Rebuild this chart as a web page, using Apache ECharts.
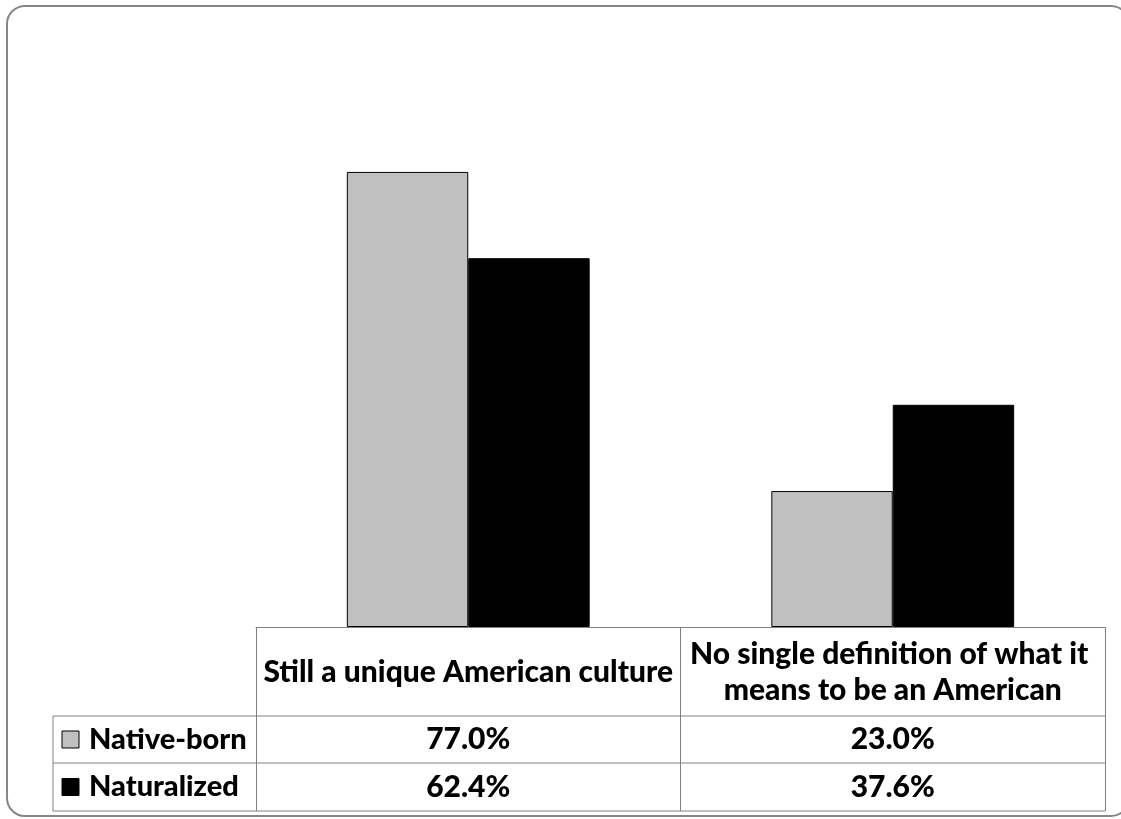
<!DOCTYPE html>
<html><head><meta charset="utf-8">
<script src="https://cdn.jsdelivr.net/npm/echarts@6/dist/echarts.min.js"></script>
<style>html,body{margin:0;padding:0;background:#fff}#c{width:1121px;height:819px}</style>
</head><body><div id="c"></div>
<script>
const categories = ['Still a unique American culture', 'No single definition of what it means to be an American'];
const seriesNames = ['Native-born', 'Naturalized'];
const nativeBorn = [77.0, 23.0];
const naturalized = [62.4, 37.6];
const seriesColors = ['#C0C0C0', '#000000'];

const FONT = 'Lato';
const FW = 900;
const FS = 30;
const FS_ROW = 29;
const W = 1121, H = 819;
const G = { left: 256, right: 16, top: 36, bottom: 192 };
const tableLeft = 53;
const rowLines = [716, 763, 811];
const lineColor = '#808080';

const chart = echarts.init(document.getElementById('c'), null, { renderer: 'canvas' });

chart.setOption({
  animation: false,
  backgroundColor: '#fff',
  grid: { left: G.left, right: G.right, top: G.top, bottom: G.bottom, containLabel: false },
  xAxis: {
    type: 'category',
    data: categories,
    boundaryGap: true,
    axisLine: { show: true, lineStyle: { color: lineColor, width: 1 } },
    axisTick: { show: true, interval: 0, length: rowLines[2] - (H - G.bottom), lineStyle: { color: lineColor, width: 1 } },
    axisLabel: {
      interval: 0, width: 412, overflow: 'break',
      fontFamily: FONT, fontSize: FS, fontWeight: FW, color: '#000',
      verticalAlign: 'middle', margin: 45, lineHeight: 36, align: 'center'
    },
    splitLine: { show: false }
  },
  yAxis: { type: 'value', min: 0, max: 100, show: false },
  series: [
    {
      name: seriesNames[0], type: 'bar', data: nativeBorn,
      barGap: '0%', barCategoryGap: '42.8%',
      itemStyle: { color: seriesColors[0], borderColor: '#000', borderWidth: 1 }
    },
    {
      name: seriesNames[1], type: 'bar', data: naturalized,
      itemStyle: { color: seriesColors[1], borderColor: '#000', borderWidth: 1 }
    }
  ]
});

const xs = categories.map((c, i) => chart.convertToPixel({ xAxisIndex: 0 }, i));
const plotRight = W - G.right;
const rowCenters = [(rowLines[0] + rowLines[1]) / 2, (rowLines[1] + rowLines[2]) / 2];
const seriesValues = [nativeBorn, naturalized];

const graphic = [];
graphic.push({
  type: 'rect', z: -10, silent: true,
  shape: { x: 7, y: 6, width: 1122, height: 810, r: 18 },
  style: { fill: 'none', stroke: '#868686', lineWidth: 2 }
});
rowLines.forEach(y => graphic.push({
  type: 'line', silent: true,
  shape: { x1: tableLeft, y1: y, x2: plotRight, y2: y },
  style: { stroke: lineColor, lineWidth: 1 }
}));
graphic.push({
  type: 'line', silent: true,
  shape: { x1: tableLeft, y1: rowLines[0], x2: tableLeft, y2: rowLines[2] },
  style: { stroke: lineColor, lineWidth: 1 }
});
seriesNames.forEach((name, r) => {
  graphic.push({
    type: 'rect', silent: true,
    shape: { x: 62, y: rowCenters[r] - 8.5, width: 17, height: 17 },
    style: { fill: seriesColors[r], stroke: '#000', lineWidth: 1 }
  });
  graphic.push({
    type: 'text', silent: true, x: 89, y: rowCenters[r],
    style: { text: name, fontFamily: FONT, fontSize: FS_ROW, fontWeight: FW, fill: '#000', verticalAlign: 'middle', align: 'left' }
  });
  seriesValues[r].forEach((v, c) => {
    graphic.push({
      type: 'text', silent: true, x: xs[c], y: rowCenters[r],
      style: { text: v.toFixed(1) + '%', fontFamily: FONT, fontSize: FS, fontWeight: FW, fill: '#000', verticalAlign: 'middle', align: 'center' }
    });
  });
});
chart.setOption({ graphic: graphic });
</script></body></html>
